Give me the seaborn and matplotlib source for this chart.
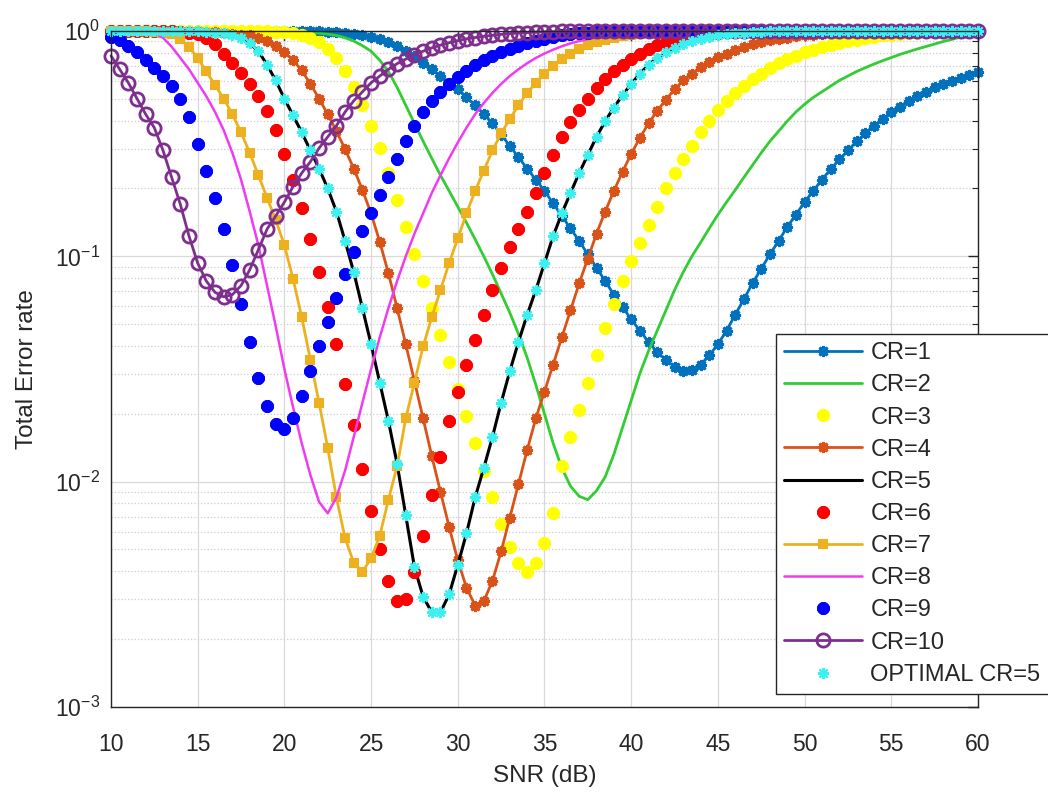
import numpy as np
import matplotlib
matplotlib.use("Agg")
import matplotlib.pyplot as plt
import seaborn as sns
from matplotlib.ticker import LogLocator, NullFormatter, MultipleLocator

# SNR grid (dB), 0.5 dB steps as in the figure
snr = np.linspace(10, 60, 101)

# Total error rate, one list per CR
cr1 = [1.0] * 24 + [
    0.995, 0.993, 0.989, 0.982, 0.973, 0.959, 0.944, 0.920, 0.891, 0.855,
    0.813, 0.771, 0.724, 0.676, 0.631, 0.589, 0.550, 0.507, 0.468, 0.427,
    0.389, 0.347, 0.309, 0.275, 0.245, 0.219, 0.195, 0.172, 0.151, 0.133,
    0.117, 0.102, 0.0891, 0.0776, 0.0676, 0.0596, 0.0525, 0.0468, 0.0417, 0.0376,
    0.0347, 0.0324, 0.0309, 0.0313, 0.0331, 0.0363, 0.0407, 0.0468, 0.0550, 0.0646,
    0.0759, 0.0881, 0.102, 0.117, 0.135, 0.153, 0.174, 0.195, 0.219, 0.243,
    0.269, 0.295, 0.324, 0.351, 0.380, 0.407, 0.437, 0.462, 0.490, 0.513,
    0.537, 0.562, 0.580, 0.600, 0.618, 0.637, 0.655]
cr2 = [1.0] * 19 + [
    0.998, 0.995, 0.993, 0.989, 0.984, 0.977, 0.968, 0.955, 0.933, 0.902,
    0.861, 0.813, 0.741, 0.661, 0.562, 0.468, 0.389, 0.324, 0.272, 0.229,
    0.195, 0.166, 0.141, 0.119, 0.100, 0.0832, 0.0684, 0.0562, 0.0452, 0.0355,
    0.0269, 0.0200, 0.0148, 0.0115, 0.00955, 0.00861, 0.00832, 0.00912, 0.0105, 0.0132,
    0.0174, 0.0229, 0.0302, 0.0380, 0.0468, 0.0575, 0.0708, 0.0851, 0.100, 0.115,
    0.133, 0.153, 0.174, 0.197, 0.224, 0.254, 0.288, 0.324, 0.359, 0.398,
    0.437, 0.473, 0.507, 0.537, 0.569, 0.603, 0.631, 0.661, 0.687, 0.713,
    0.738, 0.762, 0.787, 0.809, 0.832, 0.853, 0.875, 0.898, 0.918, 0.940,
    0.959, 0.977]
cr3 = [1.0] * 18 + [
    0.998, 0.993, 0.986, 0.977, 0.959, 0.933, 0.891, 0.832, 0.759, 0.661,
    0.562, 0.468, 0.380, 0.302, 0.234, 0.178, 0.135, 0.102, 0.0776, 0.0589,
    0.0447, 0.0339, 0.0257, 0.0195, 0.0148, 0.0112, 0.00851, 0.00646, 0.00513, 0.00437,
    0.00398, 0.00437, 0.00537, 0.00724, 0.0117, 0.0158, 0.0209, 0.0275, 0.0363, 0.0479,
    0.0617, 0.0776, 0.0955, 0.115, 0.138, 0.166, 0.200, 0.234, 0.269, 0.309,
    0.355, 0.398, 0.447, 0.490, 0.531, 0.570, 0.610, 0.646, 0.685, 0.718,
    0.750, 0.778, 0.804, 0.826, 0.847, 0.867, 0.885, 0.902, 0.916, 0.931,
    0.944, 0.955, 0.964, 0.971, 0.977, 0.982, 0.986, 0.991, 0.993, 0.995,
    0.998, 1.0, 1.0]
cr4 = [1.0] * 10 + [
    0.995, 0.991, 0.986, 0.979, 0.973, 0.964, 0.955, 0.933, 0.902, 0.861,
    0.807, 0.741, 0.668, 0.582, 0.501, 0.427, 0.359, 0.299, 0.245, 0.197,
    0.155, 0.116, 0.0841, 0.0589, 0.0407, 0.0279, 0.0191, 0.0130, 0.00902, 0.00631,
    0.00447, 0.00339, 0.00282, 0.00295, 0.00363, 0.00490, 0.00692, 0.00977, 0.0138, 0.0191,
    0.0251, 0.0331, 0.0437, 0.0575, 0.0759, 0.0977, 0.126, 0.158, 0.195, 0.237,
    0.285, 0.335, 0.389, 0.442, 0.495, 0.550, 0.603, 0.646, 0.692, 0.730,
    0.764, 0.794, 0.822, 0.847, 0.871, 0.891, 0.908, 0.923, 0.935, 0.946,
    0.955, 0.964, 0.971, 0.977, 0.982, 0.986, 0.989, 0.991, 0.993, 0.995,
    0.998] + [1.0] * 10
cr5 = [1.0] * 9 + [
    0.998, 0.995, 0.991, 0.984, 0.975, 0.962, 0.933, 0.881, 0.813, 0.708,
    0.603, 0.501, 0.422, 0.355, 0.295, 0.245, 0.200, 0.158, 0.117, 0.0851,
    0.0589, 0.0407, 0.0275, 0.0186, 0.0120, 0.00708, 0.00417, 0.00309, 0.00263, 0.00263,
    0.00316, 0.00427, 0.00589, 0.00851, 0.0115, 0.0158, 0.0224, 0.0309, 0.0417, 0.0550,
    0.0708, 0.0933, 0.123, 0.155, 0.191, 0.234, 0.282, 0.339, 0.398, 0.457,
    0.519, 0.582, 0.646, 0.708, 0.759, 0.804, 0.841, 0.875, 0.902, 0.925,
    0.942, 0.957, 0.968, 0.977, 0.984, 0.989, 0.993, 0.995, 0.998] + [1.0] * 23
cr6 = [1.0] * 7 + [
    0.995, 0.991, 0.982, 0.966, 0.933, 0.871, 0.794, 0.724, 0.653, 0.582,
    0.513, 0.442, 0.363, 0.285, 0.219, 0.164, 0.119, 0.0851, 0.0596, 0.0407,
    0.0272, 0.0178, 0.0114, 0.00741, 0.00501, 0.00363, 0.00295, 0.00302, 0.00398, 0.00575,
    0.00871, 0.0129, 0.0186, 0.0251, 0.0331, 0.0427, 0.0550, 0.0708, 0.0891, 0.110,
    0.132, 0.158, 0.191, 0.234, 0.282, 0.339, 0.394, 0.447, 0.501, 0.556,
    0.610, 0.661, 0.708, 0.754, 0.794, 0.832, 0.863, 0.891, 0.912, 0.931,
    0.946, 0.959, 0.971, 0.979, 0.986, 0.991, 0.993, 0.995, 0.998] + [1.0] * 25
cr7 = [1.0] * 5 + [
    0.993, 0.982, 0.966, 0.923, 0.851, 0.759, 0.661, 0.575, 0.501, 0.427,
    0.355, 0.288, 0.229, 0.182, 0.145, 0.112, 0.0794, 0.0537, 0.0347, 0.0224,
    0.0141, 0.00851, 0.00562, 0.00437, 0.00398, 0.00457, 0.00575, 0.00832, 0.0117, 0.0191,
    0.0275, 0.0398, 0.0537, 0.0708, 0.0933, 0.120, 0.155, 0.195, 0.240, 0.295,
    0.351, 0.407, 0.468, 0.531, 0.589, 0.646, 0.700, 0.750, 0.794, 0.832,
    0.865, 0.891, 0.914, 0.933, 0.948, 0.962, 0.973, 0.979, 0.986, 0.991,
    0.993, 0.995, 0.998] + [1.0] * 33
cr8 = [1.0] * 4 + [
    0.993, 0.977, 0.933, 0.851, 0.759, 0.676, 0.589, 0.513, 0.437, 0.363,
    0.288, 0.219, 0.158, 0.112, 0.0741, 0.0490, 0.0316, 0.0214, 0.0148, 0.0107,
    0.00813, 0.00724, 0.00851, 0.0112, 0.0158, 0.0224, 0.0316, 0.0437, 0.0589, 0.0776,
    0.100, 0.126, 0.155, 0.191, 0.229, 0.272, 0.320, 0.372, 0.427, 0.479,
    0.531, 0.582, 0.631, 0.676, 0.719, 0.759, 0.794, 0.826, 0.855, 0.881,
    0.902, 0.920, 0.935, 0.948, 0.959, 0.968, 0.977, 0.984, 0.989, 0.993,
    0.995, 0.998] + [1.0] * 35
cr9 = [
    0.944, 0.912, 0.861, 0.804, 0.741, 0.684, 0.631, 0.569, 0.501, 0.417,
    0.316, 0.240, 0.182, 0.132, 0.0912, 0.0617, 0.0417, 0.0288, 0.0216, 0.0180,
    0.0172, 0.0191, 0.0240, 0.0309, 0.0398, 0.0513, 0.0653, 0.0832, 0.105, 0.129,
    0.155, 0.188, 0.226, 0.269, 0.324, 0.380, 0.437, 0.490, 0.537, 0.582,
    0.624, 0.664, 0.703, 0.740, 0.773, 0.803, 0.832, 0.859, 0.883, 0.906,
    0.925, 0.942, 0.955, 0.966, 0.975, 0.982, 0.989, 0.993, 0.995, 0.998] + [1.0] * 41
cr10 = [
    0.776, 0.676, 0.589, 0.501, 0.427, 0.372, 0.295, 0.224, 0.170, 0.123,
    0.0933, 0.0776, 0.0692, 0.0661, 0.0676, 0.0741, 0.0871, 0.107, 0.132, 0.151,
    0.174, 0.204, 0.234, 0.263, 0.302, 0.339, 0.380, 0.437, 0.490, 0.537,
    0.589, 0.631, 0.676, 0.716, 0.750, 0.785, 0.813, 0.841, 0.865, 0.887,
    0.906, 0.923, 0.935, 0.946, 0.957, 0.966, 0.973, 0.979, 0.984, 0.988,
    0.991, 0.993, 0.995, 0.997, 0.998, 0.998, 0.999] + [1.0] * 44
# the optimal curve is CR=5 again, drawn with markers only
optimal = cr5

labels = ["CR=1", "CR=2", "CR=3", "CR=4", "CR=5", "CR=6", "CR=7", "CR=8",
          "CR=9", "CR=10", "OPTIMAL CR=5"]
series = [cr1, cr2, cr3, cr4, cr5, cr6, cr7, cr8, cr9, cr10, optimal]
colors = ["#0072BD", "#33CC33", "#FFFF00", "#D95319", "#000000", "#FF0000",
          "#EDB120", "#F03CF0", "#0000FF", "#7E2F8E", "#3CF0F0"]

star = (8, 2, 0)  # matlab-like '*'
# marker, linestyle, linewidth, markersize, markeredgewidth, filled
styles = [
    (star, "-", 2.0, 8, 2.0, True),
    (None, "-", 2.0, 0, 0, True),
    ("o", "none", 0, 8.5, 1.0, True),
    (star, "-", 2.0, 8, 2.0, True),
    (None, "-", 2.2, 0, 0, True),
    (star, "none", 0, 9, 3.0, True),
    ("s", "-", 2.0, 5.5, 1.5, True),
    (None, "-", 1.8, 0, 0, True),
    (star, "none", 0, 9, 3.0, True),
    ("o", "-", 2.0, 9.5, 2.0, False),
    (star, "none", 0, 8, 1.6, True),
]

for vals in series:
    assert len(vals) == len(snr)

sns.set_theme(style="white")
plt.rcParams["font.family"] = ["Liberation Sans", "DejaVu Sans"]
plt.rcParams["mathtext.default"] = "regular"

fig = plt.figure(figsize=(10.48, 7.96), dpi=100)
ax = fig.add_axes([0.1059, 0.1118, 0.8273, 0.8493])

for lab, vals, col, (mk, ls, lw, ms, mew, filled) in zip(labels, series, colors, styles):
    sns.lineplot(
        x=snr, y=vals, ax=ax, color=col, label=lab, estimator=None, sort=False,
        marker=mk, linestyle=ls, linewidth=lw, markersize=ms,
        markeredgewidth=mew, markeredgecolor=col,
        markerfacecolor=col if filled else "none", clip_on=False, legend=False,
    )

ax.set_yscale("log")
ax.set_xlim(10, 60)
ax.set_ylim(1e-3, 1)
ax.xaxis.set_major_locator(MultipleLocator(5))
ax.yaxis.set_major_locator(LogLocator(base=10, numticks=10))
ax.yaxis.set_minor_locator(LogLocator(base=10, subs=np.arange(2, 10), numticks=20))
ax.yaxis.set_minor_formatter(NullFormatter())

ax.grid(True, which="major", color="#d9d9d9", linewidth=0.9, linestyle="-")
ax.grid(True, which="minor", axis="y", color="#cccccc", linewidth=0.9, linestyle=":")
ax.set_axisbelow(True)

ax.tick_params(which="both", direction="in", top=True, right=True,
               colors="#262626", labelsize=16.5)
ax.tick_params(which="major", length=7, width=1)
ax.tick_params(which="minor", length=4, width=0.8)
ax.tick_params(axis="x", which="major", pad=19)
ax.tick_params(axis="y", which="major", pad=8)
for sp in ax.spines.values():
    sp.set_color("#262626")
    sp.set_linewidth(1.0)

ax.set_xlabel("SNR (dB)", fontsize=17.5, color="#262626", labelpad=6)
ax.set_ylabel("Total Error rate", fontsize=17.5, color="#262626", labelpad=12)

handles, labs = ax.get_legend_handles_labels()
leg = ax.legend(handles, labs, loc="upper left", bbox_to_anchor=(0.7405, 0.5804),
                bbox_transform=fig.transFigure, frameon=True, fancybox=False,
                edgecolor="#262626", framealpha=1, fontsize=17, numpoints=1,
                handlelength=3.3, handletextpad=0.35, labelspacing=0.43,
                borderpad=0.35, borderaxespad=0)
leg.get_frame().set_linewidth(1.0)

fig.savefig("out.png", dpi=100)
